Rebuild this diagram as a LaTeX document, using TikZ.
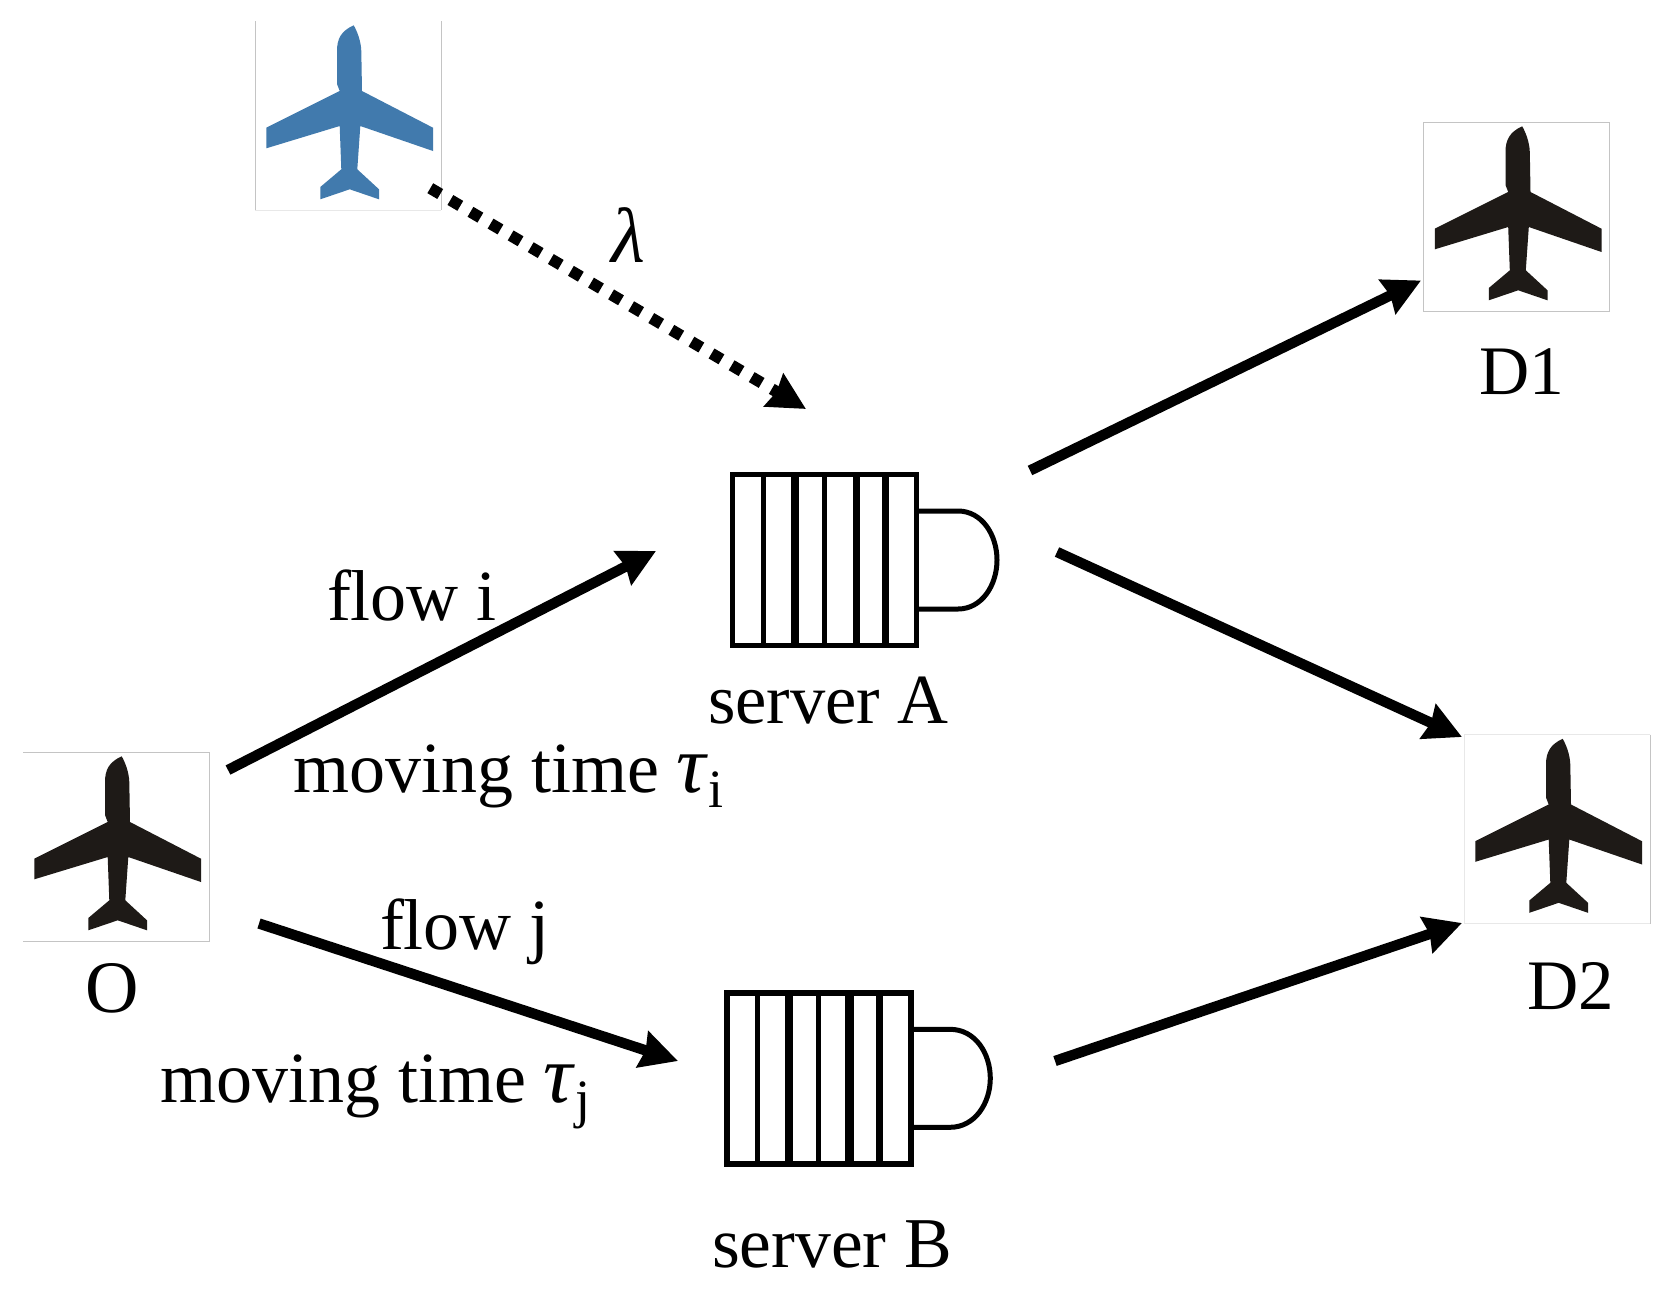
\documentclass[tikz,border=0pt]{standalone}
\usepackage{fontspec}
\setmainfont{Liberation Serif}
\usetikzlibrary{arrows.meta}
\definecolor{planedark}{HTML}{1E1A17}
\definecolor{planeblue}{HTML}{417AAD}
\definecolor{edgegray}{HTML}{C4C4C4}
\definecolor{edgefaint}{HTML}{E8E8E8}
\newcommand{\lab}{\fontsize{72}{80}\selectfont}
\newcommand{\labsize}[1]{\fontsize{#1}{80}\selectfont}
\newcommand{\subs}[1]{\raisebox{-15pt}{\fontsize{54}{56}\selectfont #1}}
\newcommand{\tauglyph}{{\fontsize{82}{80}\selectfont\textit{τ}}}
\tikzset{
  x=1pt,y=-1pt,
  lbl/.style={inner sep=0pt,outer sep=0pt,anchor=base west,font=\lab},
  planebox/.style={inner sep=0pt,outer sep=0pt,minimum width=186pt,minimum height=189pt},
  queuebox/.style={draw=black,line width=5.3pt,inner sep=0pt,outer sep=0pt,minimum width=184pt,minimum height=171pt},
  bump/.style={line width=5pt},
  flow/.style={line width=10.4pt,-{Stealth[length=37pt,width=37pt,inset=3pt]}},
  dotflow/.style={line width=11.5pt,dash pattern=on 11.5pt off 11.8pt,-{Stealth[length=37pt,width=37pt,inset=3pt]}},
  pics/plane/.style={code={
    \fill[#1] (98.7,4.3) .. controls (102,10) and (106,20) .. (106.3,30) -- (107,70) -- (178,106.7) -- (178,130)
      -- (105.3,105) -- (102.3,148.3) -- (124,168.3) -- (124,178.3) -- (94.7,168.3) -- (65.3,178.3) -- (65.3,166)
      -- (86.3,148.3) -- (84.7,105) -- (11.3,127.3) -- (11.3,106.7) -- (84.7,70) -- (82,63) -- (82,30)
      .. controls (82,18) and (86,10) .. (98.7,4.3) -- cycle;
  }}
}
\begin{document}
\begin{tikzpicture}
\useasboundingbox (0,0) rectangle (1668,1299);
\fill[white] (0,0) rectangle (1668,1299);

% aircraft boxes
\node[planebox] (U) at (348,115.5) {};
\node[planebox] (O) at (116,846.5) {};
\node[planebox] (D1) at (1516.5,216.5) {};
\node[planebox] (D2) at (1557,829) {};
\pic at (U.north west) {plane=planeblue};
\pic at (O.north west) {plane=planedark};
\pic at (D1.north west) {plane=planedark};
\pic at (D2.north west) {plane=planedark};

\draw[edgegray,line width=1pt] (U.north west) -- (U.south west) (U.north east) -- (U.south east);
\draw[edgefaint,line width=1pt] (U.south west) -- (U.south east);
\draw[edgegray,line width=1pt] (O.north west) -- (O.north east) -- (O.south east) -- (O.south west);
\draw[edgegray,line width=1pt] (D1.north west) rectangle (D1.south east);
\draw[edgefaint,line width=1pt] (D2.north east) -- (D2.north west) (D2.south west) -- (D2.south east);
\draw[edgefaint,line width=1pt] (D2.north west) -- (D2.south west);
\draw[edgegray,line width=1pt] (D2.north east) -- (D2.south east);

% server A
\node[queuebox] (A) at (824.7,560.2) {};
\draw[line width=5.3pt] (763.3,474.7) -- (763.3,645.7);
\draw[line width=7.3pt] (795,474.7) -- (795,645.7);
\draw[line width=5.3pt] (824.3,474.7) -- (824.3,645.7);
\draw[line width=7.3pt] (856.7,474.7) -- (856.7,645.7);
\draw[line width=6.6pt] (885.7,474.7) -- (885.7,645.7);
\draw[bump] (919,511) -- (958,511) .. controls (982,511) and (997,535) .. (997,560) .. controls (997,585) and (982,609) .. (958,609) -- (919,609);

% server B
\node[queuebox] (B) at (818.85,1078.35) {};
\draw[line width=5.3pt] (757.3,992.7) -- (757.3,1164);
\draw[line width=7.3pt] (789,992.7) -- (789,1164);
\draw[line width=5.3pt] (818.7,992.7) -- (818.7,1164);
\draw[line width=9.3pt] (849.3,992.7) -- (849.3,1164);
\draw[line width=7.3pt] (879.3,992.7) -- (879.3,1164);
\draw[bump] (913,1029.3) -- (950,1029.3) .. controls (975,1029.3) and (990.3,1053) .. (990.3,1078.3) .. controls (990.3,1103) and (975,1127.3) .. (950,1127.3) -- (913,1127.3);

% connectors
\draw[dotflow] ([shift={(-10.7,-21.8)}]U.south east) -- ([shift={(-18.7,-151.2)}]A.center);
\draw[flow] ([shift={(112,-76.5)}]O.center) -- ([shift={(-168.7,-9.2)}]A.center);
\draw[flow] ([shift={(143,77)}]O.center) -- ([shift={(-140.85,-17.35)}]B.center);
\draw[flow] ([shift={(205.3,-89.7)}]A.center) -- ([shift={(-95.5,64)}]D1.center);
\draw[flow] ([shift={(232.3,-8.2)}]A.center) -- ([shift={(-95,-92)}]D2.center);
\draw[flow] ([shift={(236.15,-17.35)}]B.center) -- ([shift={(-95,94)}]D2.center);

% labels
\node[lbl] (lfi) at (327,620) {flow i};
\node[lbl] (lmi) at (293,792.5) {moving time \tauglyph\subs{i}};
\node[lbl] (lfj) at (380,949) {flow j};
\node[lbl] (lmj) at (160,1102.5) {moving time \tauglyph\subs{j}};
\node[lbl,font=\labsize{74}] (lO) at (85,1012) {O};
\node[lbl,font=\labsize{70.5}] (lA) at (708,723) {server A};
\node[lbl,font=\labsize{71.5}] (lB) at (712,1267.7) {server B};
\node[lbl,font=\labsize{69.5}] (lD1) at (1479,394.6) {D1};
\node[lbl,font=\labsize{71}] (lD2) at (1527,1009) {D2};
\node[lbl,font=\labsize{78}] (ll) at (611,262) {\textit{λ}};
\end{tikzpicture}
\end{document}
